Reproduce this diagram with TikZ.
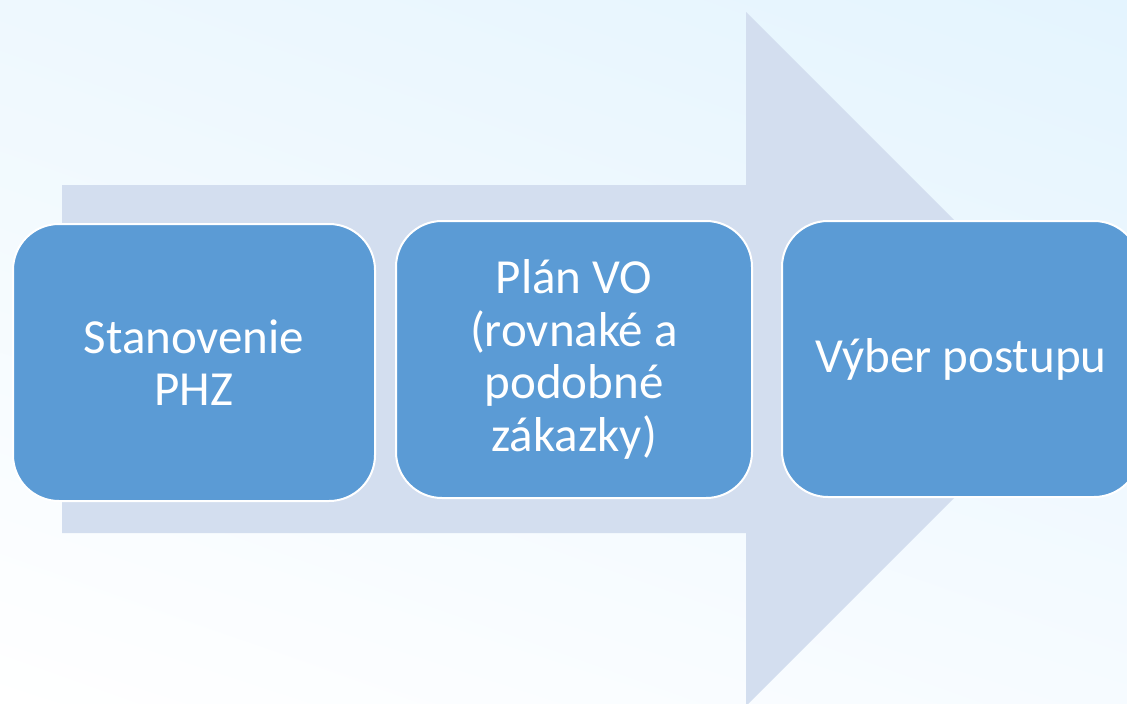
\documentclass[tikz,border=0pt]{standalone}
\usepackage{fontspec}
\setmainfont{Carlito}
\usetikzlibrary{shadings}
\definecolor{bgtl}{HTML}{EEF8FE}
\definecolor{bgtr}{HTML}{E4F4FE}
\definecolor{bgbl}{HTML}{FFFFFF}
\definecolor{bgbr}{HTML}{F6FBFF}
\definecolor{arrowfill}{HTML}{D3DEEF}
\definecolor{boxfill}{HTML}{5B9BD5}
\tikzset{
  stepbox/.style={draw=white, line width=2pt, fill=boxfill, rounded corners=46pt,
    text=white, align=center, inner sep=0pt,
    font=\fontsize{49}{52.5}\selectfont},
}
\begin{document}
\begin{tikzpicture}[x=1pt,y=-1pt]
\useasboundingbox (0,0) rectangle (1127,704);
\clip (0,0) rectangle (1127,704);
\shade[upper left=bgtl, upper right=bgtr, lower left=bgbl, lower right=bgbr] (0,0) rectangle (1127,704);
% big background arrow
\fill[arrowfill] (62,185) -- (746,185) -- (746,12) -- (1093,359) -- (746,706) -- (746,533) -- (62,533) -- cycle;
% steps
\node[stepbox, minimum width=362pt, minimum height=277pt] (b1) at (194,362.5) {Stanovenie\\PHZ};
\node[stepbox, minimum width=356pt, minimum height=277pt] (b2) at (574,359.5) {Plán VO\\(rovnaké a\\podobné\\zákazky)};
\node[stepbox, minimum width=358pt, minimum height=276pt] (b3) at (961,359) {Výber postupu};
\end{tikzpicture}
\end{document}
